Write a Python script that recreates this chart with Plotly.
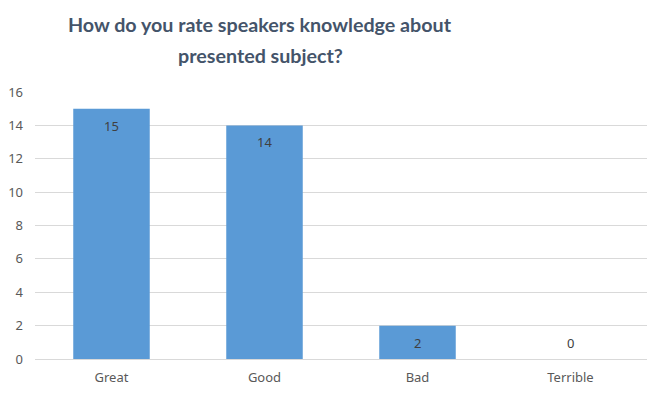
import plotly.graph_objects as go

categories = ["Great", "Good", "Bad", "Terrible"]
values = [15, 14, 2, 0]
y_ticks = [0, 2, 4, 6, 8, 10, 12, 14, 16]
title_lines = ["How do you rate speakers knowledge about", "presented subject?"]

W, H = 664, 396
L, R, T, B = 35, 17, 92, 37
plot_w, plot_h = W - L - R, H - T - B


def px_to_paper_x(px):
    return (px - L) / plot_w


def px_to_paper_y(py):
    return (H - B - py) / plot_h


fig = go.Figure()
fig.add_trace(go.Bar(
    x=categories,
    y=values,
    marker=dict(color="#5A9AD6", line=dict(width=0)),
    hoverinfo="skip",
))

# data labels: inside near top for non-zero bars, just above baseline for zero
for c, v in zip(categories, values):
    fig.add_annotation(
        x=c, y=v, xref="x", yref="y",
        text=str(v), showarrow=False,
        yshift=-17 if v > 0 else 16,
        yanchor="middle",
        font=dict(family="Noto Sans", size=13, color="#404040"),
    )

title_font = dict(family="Lato, Open Sans", size=19.7, color="#44546A", weight="bold")
for i, line in enumerate(title_lines):
    fig.add_annotation(
        x=px_to_paper_x(260), y=px_to_paper_y(24 + 32 * i),
        xref="paper", yref="paper",
        text=line, showarrow=False, xanchor="center", yanchor="middle",
        font=title_font,
    )

fig.update_layout(
    width=W,
    height=H,
    margin=dict(l=L, r=R, t=T, b=B, autoexpand=False),
    paper_bgcolor="white",
    plot_bgcolor="white",
    bargap=0.5,
    showlegend=False,
    xaxis=dict(
        showgrid=False,
        showline=False,
        ticks="",
        automargin=False,
        ticklabelstandoff=9,
        tickfont=dict(family="Noto Sans", size=13, color="#595959"),
    ),
    yaxis=dict(
        range=[0, 16],
        tickvals=y_ticks,
        showgrid=True,
        gridcolor="#D9D9D9",
        gridwidth=1,
        zeroline=True,
        zerolinecolor="#D9D9D9",
        zerolinewidth=1,
        ticks="",
        automargin=False,
        ticklabelstandoff=11,
        tickfont=dict(family="Noto Sans", size=13, color="#595959"),
    ),
)

fig.write_html(
    "out.html",
    config={"displayModeBar": False},
    post_script="document.body.style.margin='0';document.body.style.overflow='hidden';",
)
